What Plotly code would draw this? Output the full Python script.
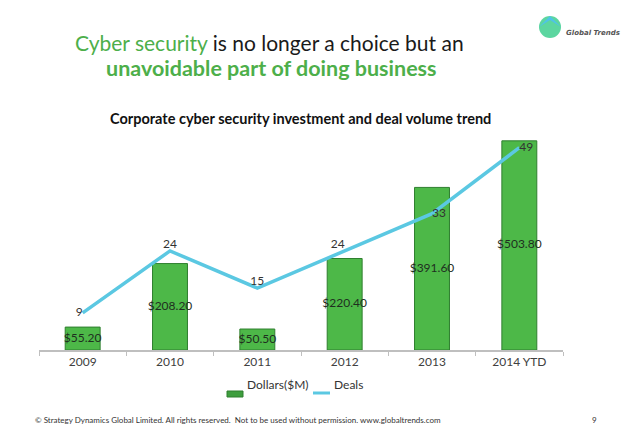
import plotly.graph_objects as go

years = ["2009", "2010", "2011", "2012", "2013", "2014 YTD"]
dollars = [55.20, 208.20, 50.50, 220.40, 391.60, 503.80]
deals = [9, 24, 15, 24, 33, 49]
deal_label_pos = ["middle left", "top center", "top center", "top left", "middle right", "middle right"]

W, H = 638, 442
def px(x):
    return x / W
def py(y):
    return 1 - y / H

fig = go.Figure()

fig.add_trace(go.Bar(
    x=years, y=dollars, name="Dollars($M)",
    marker=dict(color="#4DB848", line=dict(color="#2F7F2F", width=1)),
    width=0.4, showlegend=False, hoverinfo="skip",
))

fig.add_trace(go.Scatter(
    x=years, y=[v / 2 for v in dollars], mode="text",
    text=["$%.2f" % v for v in dollars],
    textfont=dict(family="Lato", size=12, color="#1F2F1F"),
    showlegend=False, hoverinfo="skip",
))

fig.add_trace(go.Scatter(
    x=years, y=deals, name="Deals", yaxis="y2",
    mode="lines+text", line=dict(color="#5BC8E2", width=3.5),
    text=[str(d) for d in deals], textposition=deal_label_pos,
    textfont=dict(family="Lato", size=12, color="#333333"),
    showlegend=False, hoverinfo="skip",
))

fig.update_layout(
    width=W, height=H,
    margin=dict(l=0, r=0, t=0, b=0),
    paper_bgcolor="white", plot_bgcolor="white",
    font=dict(family="Lato", color="#404040"),
    xaxis=dict(
        domain=[px(39), px(563)],
        showline=True, linecolor="#BFBFBF", linewidth=1.5,
        ticks="outside", tickson="boundaries", ticklen=4, tickcolor="#BFBFBF",
        tickfont=dict(family="Lato", size=12, color="#404040"),
        showgrid=False, zeroline=False,
    ),
    yaxis=dict(
        domain=[py(350), py(120)], range=[0, 554],
        visible=False, showgrid=False, zeroline=False,
    ),
    yaxis2=dict(
        overlaying="y", range=[0, 55.7], visible=False,
        showgrid=False, zeroline=False,
    ),
    showlegend=False,
)

# manual legend
fig.add_shape(type="rect", xref="paper", yref="paper",
              x0=px(227), x1=px(243), y0=py(397), y1=py(391),
              fillcolor="#3E9E3E", line=dict(color="#2F7F2F", width=1))
fig.add_annotation(x=px(245), y=py(394), xref="paper", yref="paper", showarrow=False,
                   xanchor="left", text="Dollars($M)",
                   font=dict(family="Lato", size=12, color="#333333"))
fig.add_shape(type="line", xref="paper", yref="paper",
              x0=px(313), x1=px(330), y0=py(393), y1=py(393),
              line=dict(color="#5BC8E2", width=3))
fig.add_annotation(x=px(332), y=py(394), xref="paper", yref="paper", showarrow=False,
                   xanchor="left", text="Deals",
                   font=dict(family="Lato", size=12, color="#333333"))

green = "#4DAF4A"
fig.add_annotation(
    x=px(269), y=py(28), xref="paper", yref="paper", showarrow=False,
    text="<span style='color:%s'>Cyber security</span> is no longer a choice but an" % green,
    font=dict(family="Lato", size=21, color="#1A1A1A"),
)
fig.add_annotation(
    x=px(271), y=py(53), xref="paper", yref="paper", showarrow=False,
    text="<b>unavoidable part of doing business</b>",
    font=dict(family="Lato", size=21.5, color=green),
)
fig.add_annotation(
    x=px(300), y=py(108), xref="paper", yref="paper", showarrow=False,
    text="<b>Corporate cyber security investment and deal volume trend</b>",
    font=dict(family="Lato", size=14.5, color="#111111"),
)
fig.add_annotation(
    x=px(33), y=py(427), xref="paper", yref="paper", showarrow=False, xanchor="left",
    text="© Strategy Dynamics Global Limited. All rights reserved.  Not to be used without permission. www.globaltrends.com",
    font=dict(family="Lato", size=8, color="#333333"),
)
fig.add_annotation(
    x=px(599), y=py(427), xref="paper", yref="paper", showarrow=False,
    text="9", font=dict(family="Lato", size=8, color="#333333"),
)

# logo
fig.add_shape(type="circle", xref="paper", yref="paper",
              x0=px(539), x1=px(561), y0=py(38), y1=py(16),
              fillcolor="#5CD6A0", line=dict(width=0))
fig.add_shape(type="path", xref="paper", yref="paper",
              path="M %f %f L %f %f L %f %f L %f %f Z" % (px(539), py(27), px(550), py(16), px(561), py(27), px(550), py(20)),
              fillcolor="#4FC3E8", line=dict(width=0))
fig.add_annotation(
    x=px(564), y=py(27), xref="paper", yref="paper", showarrow=False, xanchor="left",
    text="<b><i>Global Trends</i></b>", font=dict(family="DejaVu Sans", size=7, color="#555555"),
)

fig.write_html("out.html", config={"displayModeBar": False},
               post_script="document.body.style.margin='0';")
